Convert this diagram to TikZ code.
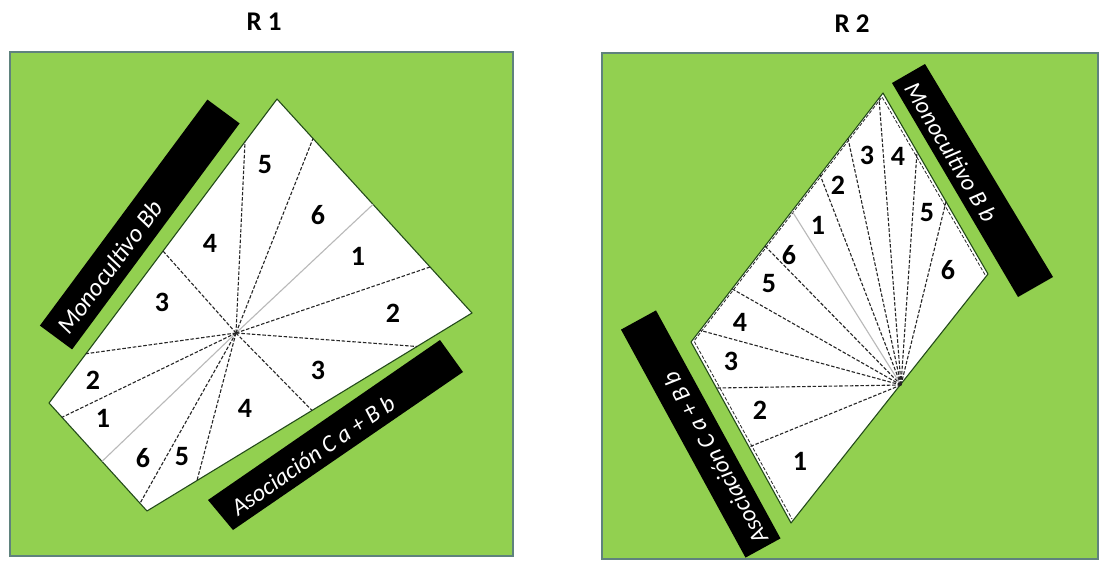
\documentclass[tikz,border=0pt]{standalone}
\usepackage{fontspec}
\setmainfont{Carlito}
\definecolor{field}{HTML}{92D050}
\definecolor{frame}{RGB}{95,130,125}
\definecolor{plotedge}{RGB}{35,75,25}
\begin{document}
\begin{tikzpicture}[x=1pt,y=-1pt,
  divd/.style={black!85, line width=1.1pt, dash pattern=on 3.5pt off 1.8pt},
  divs/.style={gray!55, line width=1.1pt},
  num/.style={font=\fontsize{28}{30}\selectfont\bfseries, inner sep=0pt},
  tag/.style={font=\fontsize{24}{26}\selectfont\itshape, text=white, inner sep=0pt},
  ttl/.style={font=\fontsize{27}{30}\selectfont\bfseries, inner sep=0pt},
  fieldbox/.style={fill=field, draw=frame, line width=1.2pt},
  plot/.style={fill=white, draw=plotedge, line width=1.1pt, line join=round},
  band/.style={fill=black, draw=none}]
\useasboundingbox (0,0) rectangle (1102,565);

% titles
\node[ttl] (title1) at (264,22) {R 1};
\node[ttl] (title2) at (852,24) {R 2};

% fields
\draw[fieldbox] (10,52) rectangle (513,556);
\draw[fieldbox] (602,53) rectangle (1098,559);

% ---------------- R1 ----------------
\coordinate (T1) at (277,99);
\coordinate (V1) at (472,313);
\coordinate (B1) at (147,511);
\coordinate (L1) at (49,403);
\coordinate (C1) at (236,333);
\draw[plot] (T1) -- (V1) -- (B1) -- (L1) -- cycle;
% edge points
\coordinate (s3) at (245,141.7);
\coordinate (s2) at (163,251);
\coordinate (s1) at (86,353.7);
\coordinate (p3) at (313,138.5);
\coordinate (p4) at (373,204.4);
\coordinate (p5) at (430,267);
\coordinate (q1) at (417,346.5);
\coordinate (q2) at (312,410.4);
\coordinate (q3) at (197,480.5);
\coordinate (r1) at (140,503.3);
\coordinate (r2) at (102,461.4);
\coordinate (r3) at (62,417.3);
\draw[divs] (C1) -- (p4);
\draw[divs] (C1) -- (r2);
\foreach \e in {s1,s2,s3,p3,p5,q1,q2,q3,r1,r3} \draw[divd] (C1) -- (\e);

\node[num] (a5) at (265,165) {5};
\node[num] (a6) at (318,215) {6};
\node[num] (a4) at (210,243) {4};
\node[num] (a1) at (358,256) {1};
\node[num] (a3) at (162,302) {3};
\node[num] (a2) at (393,313) {2};
\node[num] (a3b) at (318,370) {3};
\node[num] (a2b) at (93,380) {2};
\node[num] (a4b) at (245,408) {4};
\node[num] (a1b) at (103,418) {1};
\node[num] (a6b) at (143,458) {6};
\node[num] (a5b) at (182,457) {5};

% labels R1
\fill[band] (207.4,99.6) -- (239.6,123.4) -- (72.1,349.4) -- (39.9,325.6) -- cycle;
\node[tag, rotate=53.4, font=\fontsize{25}{27}\selectfont\itshape] (mono1) at (110,267) {Monocultivo Bb};
\fill[band] (440,340) -- (463,372) -- (233,530) -- (208,500) -- cycle;
\node[tag, rotate=34.6] (asoc1) at (313,455) {Asociación C a + B b};

% ---------------- R2 ----------------
\coordinate (T2) at (883,93);
\coordinate (V2) at (988,274);
\coordinate (B2) at (791,523);
\coordinate (L2) at (691,342);
\coordinate (C2) at (901,385);
\draw[plot] (T2) -- (V2) -- (B2) -- (L2) -- cycle;
\draw[divd, line width=0.8pt] (985,274.7) -- (882,97) -- (694,341) -- (792,519);
\coordinate (e1) at (749,447);
\coordinate (e2) at (716.4,388);
\coordinate (e3) at (700,330.3);
\coordinate (e4) at (732,288.8);
\coordinate (e5) at (765,246);
\coordinate (e6) at (792,211);
\coordinate (e7) at (820,174.7);
\coordinate (e8) at (848,138.4);
\coordinate (e9) at (879,98.2);
\coordinate (f1) at (917,151.6);
\coordinate (f2) at (946,201.6);
\draw[divs] (C2) -- (e6);
\foreach \e in {e1,e2,e3,e4,e5,e7,e8,e9,f1,f2} \draw[divd] (C2) -- (\e);

\node[num] (b1) at (800,461) {1};
\node[num] (b2) at (760,410) {2};
\node[num] (b3) at (731,361) {3};
\node[num] (b4) at (740,322) {4};
\node[num] (b5) at (769,284) {5};
\node[num] (b6) at (789,255) {6};
\node[num] (b1b) at (818,225) {1};
\node[num] (b2b) at (838,185) {2};
\node[num] (b3b) at (867,155) {3};
\node[num] (b4b) at (898,156) {4};
\node[num] (b5b) at (927,213) {5};
\node[num] (b6b) at (948,270) {6};

% labels R2
\fill[band] (892,83) -- (925,64) -- (1053,277) -- (1018,297) -- cycle;
\node[tag, rotate=-59.3] (mono2) at (951,152) {Monocultivo B b};
\fill[band] (656,310.4) -- (621,329.6) -- (745.5,557.6) -- (780.5,538.4) -- cycle;
\node[tag, rotate=118.7] (asoc2) at (715,458) {Asociación C a + B b};
\end{tikzpicture}
\end{document}
